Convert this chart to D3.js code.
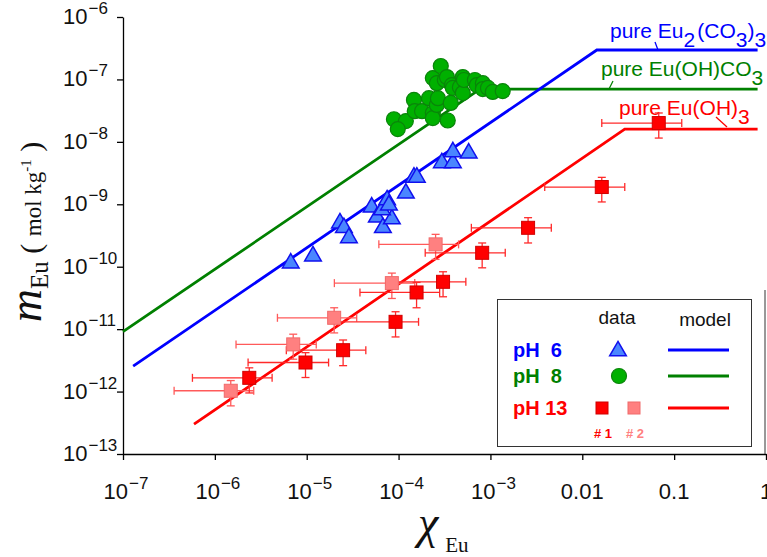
<!DOCTYPE html>
<html>
<head>
<meta charset="utf-8">
<script src="https://cdn.jsdelivr.net/npm/d3@7"></script>
<style>
  body { margin: 0; background: #fff; }
  svg { display: block; font-family: "Liberation Sans", Arial, sans-serif; }
</style>
</head>
<body>
<div id="chart"></div>
<script>
// axis ticks
var xTicks = [1e-7, 1e-6, 1e-5, 1e-4, 1e-3, 0.01, 0.1, 1]
var xTickBase = ["10", "10", "10", "10", "10", "0.01", "0.1", "1"]
var xTickExp = ["\u22127", "\u22126", "\u22125", "\u22124", "\u22123", "", "", ""]
var yTicks = [1e-13, 1e-12, 1e-11, 1e-10, 1e-9, 1e-8, 1e-7, 1e-6]
var yTickExp = ["\u221213", "\u221212", "\u221211", "\u221210", "\u22129", "\u22128", "\u22127", "\u22126"]

// pH 6 data (triangles)
var ph6X = [6.7e-6, 1.17e-5, 2.3e-5, 2.54e-5, 2.88e-5, 5.1e-5, 5.8e-5, 6.75e-5, 8.45e-5, 6.6e-5, 7.5e-5, 7.85e-5, 1.2e-4, 1.47e-4, 1.58e-4, 2.96e-4, 3.9e-4, 3.9e-4, 5.8e-4]
var ph6Y = [1.14e-10, 1.48e-10, 5.0e-10, 4.2e-10, 2.9e-10, 9.0e-10, 6.2e-10, 4.2e-10, 5.8e-10, 8.1e-10, 1.17e-9, 9.7e-10, 1.5e-9, 2.7e-9, 2.7e-9, 4.6e-9, 4.6e-9, 6.9e-9, 6.6e-9]

// pH 8 data (circles)
var ph8X = [8.9e-5, 1.2e-4, 9.8e-5, 1.47e-4, 1.5e-4, 1.8e-4, 2.14e-4, 2.36e-4, 2.36e-4, 2.61e-4, 2.68e-4, 3.43e-4, 3.7e-4, 2.36e-4, 2.61e-4, 2.88e-4, 3.19e-4, 3.36e-4, 3.8e-4, 3.9e-4, 4.65e-4, 5.0e-4, 5.0e-4, 5.14e-4, 6.77e-4, 7.1e-4, 8.27e-4, 8.27e-4, 9.4e-4, 1.06e-3, 1.36e-3]
var ph8Y = [2.3e-8, 2.15e-8, 1.6e-8, 4.7e-8, 3.1e-8, 3.1e-8, 5.0e-8, 2.9e-8, 2.4e-8, 3.9e-8, 5.0e-8, 2.2e-8, 4.2e-8, 1.05e-7, 8.7e-8, 1.64e-7, 9.8e-8, 1.09e-7, 8.1e-8, 7.3e-8, 7.5e-8, 1.09e-7, 6.05e-8, 9.8e-8, 9.8e-8, 8.1e-8, 8.7e-8, 7.0e-8, 7.3e-8, 6.3e-8, 6.5e-8]

// pH 13 data, series #1
var ph13aX = [2.37e-6, 9.7e-6, 2.49e-5, 9.27e-5, 1.57e-4, 3.05e-4, 8.13e-4, 2.57e-3, 0.0163, 0.068]
var ph13aXLo = [5.7e-7, 2.3e-6, 6.0e-6, 2.2e-5, 3.8e-5, 7.3e-5, 1.95e-4, 6.2e-4, 3.9e-3, 0.0163]
var ph13aXHi = [4.2e-6, 1.73e-5, 4.4e-5, 1.65e-4, 2.8e-4, 5.4e-4, 1.45e-3, 4.6e-3, 0.029, 0.121]
var ph13aY = [1.66e-12, 2.92e-12, 4.6e-12, 1.31e-11, 3.87e-11, 5.73e-11, 1.67e-10, 4.2e-10, 1.89e-9, 2.0e-8]
var ph13aYLo = [9.5e-13, 1.68e-12, 2.6e-12, 7.5e-12, 2.2e-11, 3.3e-11, 9.6e-11, 2.4e-10, 1.09e-9, 1.15e-8]
var ph13aYHi = [2.4e-12, 4.2e-12, 6.7e-12, 1.9e-11, 5.6e-11, 8.3e-11, 2.4e-10, 6.1e-10, 2.7e-9, 2.9e-8]

// pH 13 data, series #2
var ph13bX = [1.49e-6, 7.13e-6, 1.99e-5, 8.45e-5, 2.53e-4]
var ph13bXLo = [3.6e-7, 1.7e-6, 4.8e-6, 2.0e-5, 6.1e-5]
var ph13bXHi = [2.65e-6, 1.27e-5, 3.5e-5, 1.5e-4, 4.5e-4]
var ph13bY = [1.03e-12, 5.7e-12, 1.52e-11, 5.46e-11, 2.28e-10]
var ph13bYLo = [5.9e-13, 3.3e-12, 8.7e-12, 3.1e-11, 1.31e-10]
var ph13bYHi = [1.5e-12, 8.3e-12, 2.2e-11, 7.9e-11, 3.3e-10]

// model lines (slope 1, then plateau of the pure phase)
var model6X = [1.29e-7, 0.0144, 0.81]
var model6Y = [2.55e-12, 2.96e-7, 2.96e-7]
var model8X = [1e-7, 7.7e-4, 0.81]
var model8Y = [9.1e-12, 7.0e-8, 7.0e-8]
var model13X = [5.93e-7, 0.029, 0.81]
var model13Y = [3.0e-13, 1.6e-8, 1.6e-8]

var width = 767,
  height = 557

var svg = d3.select("#chart")
  .append("svg")
  .attr("width", width)
  .attr("height", height)

var x = d3.scaleLog().domain([1e-7, 1]).range([123, 766])
var y = d3.scaleLog().domain([1e-13, 1e-6]).range([454, 17])

var blue = "#0000ff", green = "#008000", red = "#ff0000", pink = "#ff8080"

// axes
svg.append("g")
  .attr("transform", "translate(123,0)")
  .call(d3.axisLeft(y).tickValues(yTicks).tickFormat("").tickSize(6).tickSizeOuter(0))
svg.append("g")
  .attr("transform", "translate(0,454)")
  .call(d3.axisBottom(x).tickValues(xTicks).tickFormat("").tickSize(6).tickSizeOuter(0))
svg.selectAll(".domain, .tick line").attr("stroke", "#000").attr("stroke-width", 1.3)

// y tick labels
yTicks.forEach(function (t, i) {
  var txt = svg.append("text")
    .attr("x", 63)
    .attr("y", y(t) + 7)
    .attr("font-size", 22)
    .attr("fill", "#111")
  txt.append("tspan").text("10")
  txt.append("tspan").attr("font-size", 17).attr("dy", -10).attr("dx", 1).text(yTickExp[i])
})

// x tick labels
xTicks.forEach(function (t, i) {
  var txt = svg.append("text")
    .attr("x", x(t) + (xTickExp[i] ? 3 : 0))
    .attr("y", 499)
    .attr("text-anchor", "middle")
    .attr("font-size", 22)
    .attr("fill", "#111")
  txt.append("tspan").text(xTickBase[i])
  if (xTickExp[i]) {
    txt.append("tspan").attr("font-size", 17).attr("dy", -10).attr("dx", 1).text(xTickExp[i])
  }
})

// axis titles
var ylab = svg.append("text")
  .attr("transform", "translate(41,232) rotate(-90)")
  .attr("text-anchor", "middle")
  .attr("font-family", "Liberation Serif, Times New Roman, serif")
  .attr("fill", "#111")
ylab.append("tspan").attr("font-size", 46).attr("font-style", "italic").text("m")
ylab.append("tspan").attr("font-size", 25).attr("dy", 7).text("Eu")
ylab.append("tspan").attr("font-size", 30).attr("dy", -7).text(" ( ")
ylab.append("tspan").attr("font-size", 23).text("mol kg")
ylab.append("tspan").attr("font-size", 15).attr("dy", -10).text("-1")
ylab.append("tspan").attr("font-size", 30).attr("dy", 10).text(" )")

var xlab = svg.append("text")
  .attr("x", 418)
  .attr("y", 538)
  .attr("font-family", "Liberation Serif, Times New Roman, serif")
  .attr("fill", "#111")
xlab.append("tspan").attr("font-size", 46).attr("font-style", "italic").text("χ")
xlab.append("tspan").attr("font-size", 21).attr("dy", 14).attr("dx", 7).text("Eu")

// right edge stub
svg.append("line")
  .attr("x1", 765).attr("x2", 765).attr("y1", 290).attr("y2", 454)
  .attr("stroke", "#333").attr("stroke-width", 1)

// model lines
var line = d3.line()
  .x(function (d) { return x(d[0]) })
  .y(function (d) { return y(d[1]) })

function drawModel(xs, ys, color) {
  svg.append("path")
    .datum(d3.zip(xs, ys))
    .attr("d", line)
    .attr("fill", "none")
    .attr("stroke", color)
    .attr("stroke-width", 2.8)
}
drawModel(model8X, model8Y, green)
drawModel(model6X, model6Y, blue)
drawModel(model13X, model13Y, red)

// annotations for pure phases
function label(xp, yp, parts, color) {
  var t = svg.append("text")
    .attr("x", xp).attr("y", yp)
    .attr("font-size", 21)
    .attr("fill", color)
  var shift = 0
  parts.forEach(function (p) {
    var sp = t.append("tspan").text(p[0])
    var want = p[1] ? 9 : 0
    sp.attr("dy", want - shift)
    if (p[2]) sp.attr("dx", p[2])
    shift = want
  })
}
label(610, 38, [["pure Eu", 0], ["2", 1], ["(CO", 0, 2], ["3", 1], [")", 0], ["3", 1]], blue)
label(601, 76, [["pure Eu(OH)CO", 0], ["3", 1]], green)
label(619, 115, [["pure Eu(OH)", 0], ["3", 1]], red)

function leader(x1, y1, x2, y2, color) {
  svg.append("line")
    .attr("x1", x1).attr("y1", y1).attr("x2", x2).attr("y2", y2)
    .attr("stroke", color).attr("stroke-width", 1.3)
}
leader(655, 42, 658, 50, blue)
leader(613, 81, 609, 89, green)
leader(716, 117, 727, 127, red)

// error bars
function errorBars(xs, xlo, xhi, ys, ylo, yhi, color) {
  var g = svg.append("g").attr("stroke", color).attr("stroke-width", 1.3)
  xs.forEach(function (v, i) {
    var cx = x(v), cy = y(ys[i])
    var l = x(xlo[i]), r = x(xhi[i]), t = y(yhi[i]), b = y(ylo[i])
    g.append("line").attr("x1", l).attr("x2", r).attr("y1", cy).attr("y2", cy)
    g.append("line").attr("x1", l).attr("x2", l).attr("y1", cy - 4).attr("y2", cy + 4)
    g.append("line").attr("x1", r).attr("x2", r).attr("y1", cy - 4).attr("y2", cy + 4)
    g.append("line").attr("x1", cx).attr("x2", cx).attr("y1", t).attr("y2", b)
    g.append("line").attr("x1", cx - 4).attr("x2", cx + 4).attr("y1", t).attr("y2", t)
    g.append("line").attr("x1", cx - 4).attr("x2", cx + 4).attr("y1", b).attr("y2", b)
  })
}
errorBars(ph13bX, ph13bXLo, ph13bXHi, ph13bY, ph13bYLo, ph13bYHi, "#ff5a5a")
errorBars(ph13aX, ph13aXLo, ph13aXHi, ph13aY, ph13aYLo, ph13aYHi, "#ff2a2a")

// markers
var tri = d3.symbol().type(d3.symbolTriangle).size(120)
svg.append("g").selectAll("path")
  .data(d3.zip(ph6X, ph6Y))
  .enter()
  .append("path")
  .attr("d", tri)
  .attr("transform", function (d) { return "translate(" + x(d[0]) + "," + y(d[1]) + ")" })
  .attr("fill", "#4a86ff")
  .attr("stroke", "#1010ee")
  .attr("stroke-width", 1.5)

svg.append("g").selectAll("circle")
  .data(d3.zip(ph8X, ph8Y))
  .enter()
  .append("circle")
  .attr("cx", function (d) { return x(d[0]) })
  .attr("cy", function (d) { return y(d[1]) })
  .attr("r", 7.5)
  .attr("fill", "#00b000")
  .attr("stroke", "#0a840a")
  .attr("stroke-width", 1.2)

function squares(xs, ys, fill, stroke) {
  svg.append("g").selectAll("rect")
    .data(d3.zip(xs, ys))
    .enter()
    .append("rect")
    .attr("x", function (d) { return x(d[0]) - 6.5 })
    .attr("y", function (d) { return y(d[1]) - 6.5 })
    .attr("width", 13)
    .attr("height", 13)
    .attr("fill", fill)
    .attr("stroke", stroke)
    .attr("stroke-width", 1)
}
squares(ph13bX, ph13bY, pink, "#f06a6a")
squares(ph13aX, ph13aY, red, "#d00000")

// legend
var lg = svg.append("g")
lg.append("rect")
  .attr("x", 497.5).attr("y", 299.5).attr("width", 254).attr("height", 147)
  .attr("fill", "#fff").attr("stroke", "#333").attr("stroke-width", 1)
lg.append("text").attr("x", 617).attr("y", 324).attr("text-anchor", "middle")
  .attr("font-size", 19).attr("fill", "#111").text("data")
lg.append("text").attr("x", 705).attr("y", 326).attr("text-anchor", "middle")
  .attr("font-size", 19).attr("fill", "#111").text("model")

var legendRows = [
  { label: "pH  6", color: blue, y: 350 },
  { label: "pH  8", color: green, y: 376 },
  { label: "pH 13", color: red, y: 408 }
]
legendRows.forEach(function (r) {
  lg.append("text").attr("x", 513).attr("y", r.y + 7)
    .attr("font-size", 20).attr("font-weight", "bold")
    .attr("fill", r.color).style("white-space", "pre").text(r.label)
  lg.append("line").attr("x1", 668).attr("x2", 729).attr("y1", r.y).attr("y2", r.y)
    .attr("stroke", r.color).attr("stroke-width", 2.8)
})
lg.append("path").attr("d", tri).attr("transform", "translate(618,351)")
  .attr("fill", "#4a86ff").attr("stroke", "#1010ee").attr("stroke-width", 1.5)
lg.append("circle").attr("cx", 619).attr("cy", 376).attr("r", 7.5)
  .attr("fill", "#00b000").attr("stroke", "#0a840a").attr("stroke-width", 1.2)
lg.append("rect").attr("x", 596).attr("y", 402).attr("width", 12).attr("height", 12)
  .attr("fill", red).attr("stroke", "#d00000")
lg.append("rect").attr("x", 628).attr("y", 402).attr("width", 12).attr("height", 12)
  .attr("fill", pink).attr("stroke", "#f06a6a")
lg.append("text").attr("x", 603).attr("y", 438).attr("text-anchor", "middle")
  .attr("font-size", 13).attr("font-weight", "bold").attr("fill", red).text("# 1")
lg.append("text").attr("x", 635).attr("y", 438).attr("text-anchor", "middle")
  .attr("font-size", 13).attr("font-weight", "bold").attr("fill", pink).text("# 2")
</script>
</body>
</html>
